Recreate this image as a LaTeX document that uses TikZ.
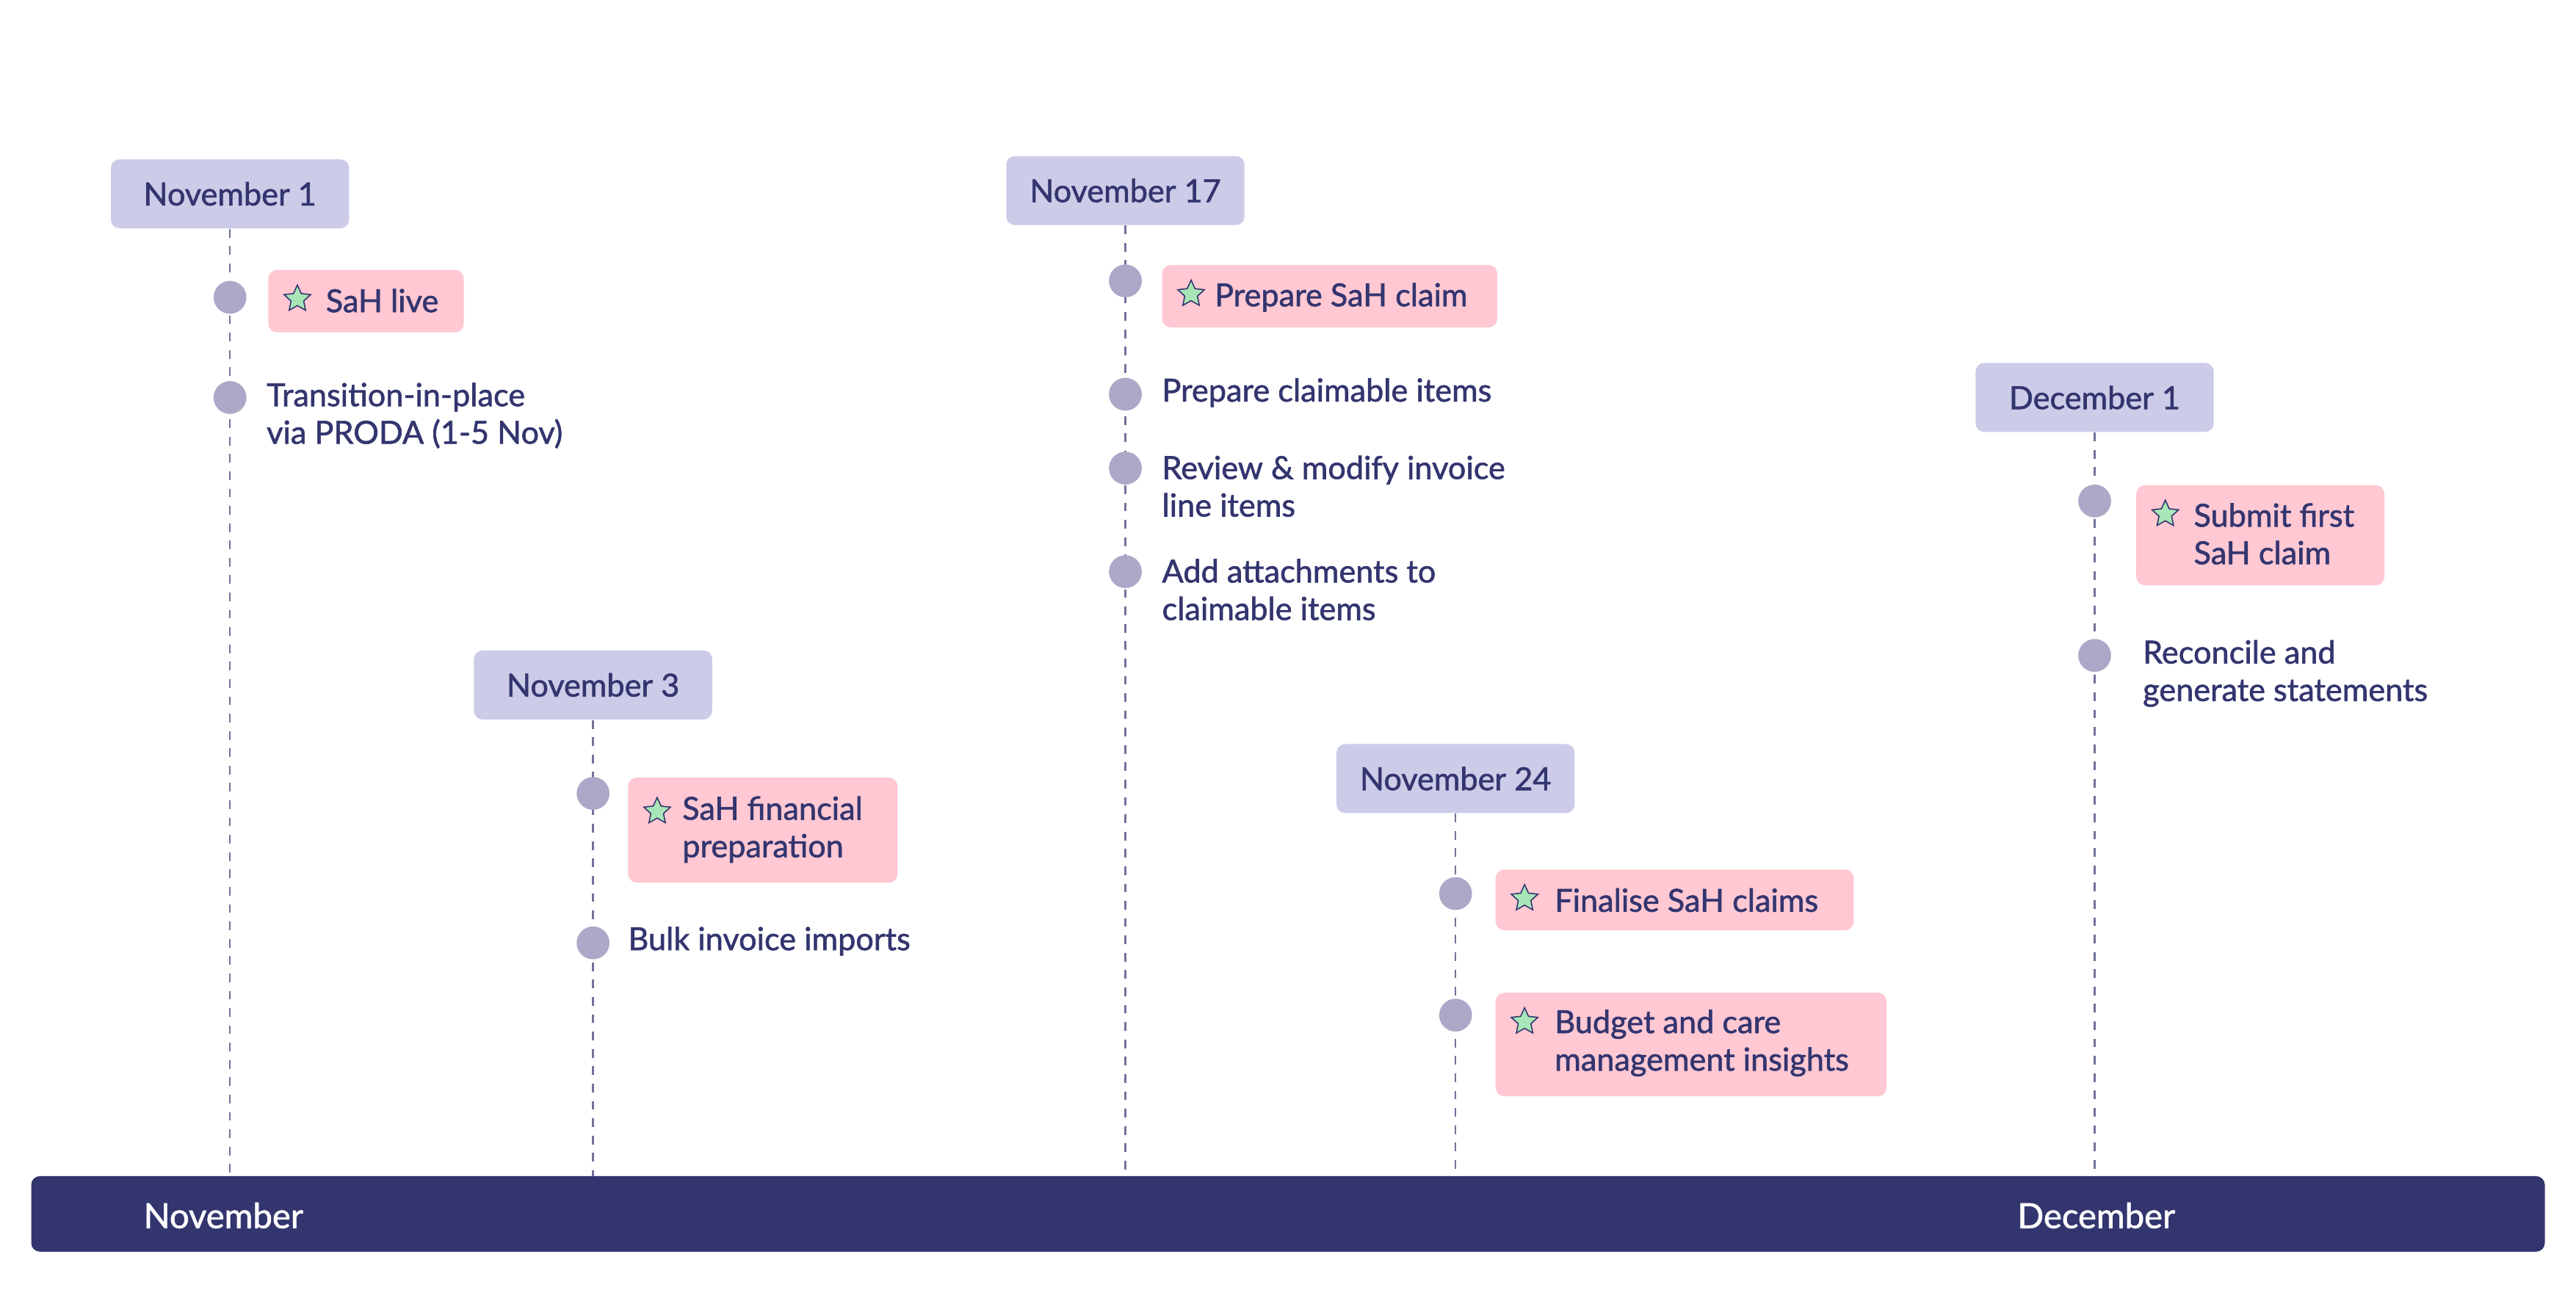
\documentclass[tikz,border=0pt]{standalone}
\usepackage{fontspec}
\setmainfont{Lato}[UprightFeatures={FakeBold=1.4}]
\definecolor{navy}{HTML}{33356F}
\definecolor{lilac}{HTML}{CCCBE8}
\definecolor{dotgray}{HTML}{ABA8C8}
\definecolor{rosepink}{HTML}{FFC8D3}
\definecolor{mint}{HTML}{A8E6B8}
\usetikzlibrary{positioning, shapes.geometric}

\begin{document}
\begin{tikzpicture}[
      x=0.02cm, y=-0.02cm,
      txt/.style={font=\fontsize{11}{13}\selectfont, text=navy, align=left, anchor=west, inner sep=0pt},
      date/.style={fill=lilac, rounded corners=3pt, minimum width=145*0.02cm, minimum height=42*0.02cm,
        font=\fontsize{11}{13}\selectfont, text=navy},
      dot/.style={circle, fill=dotgray, minimum size=20*0.02cm, inner sep=0pt},
      pinkbox/.style={fill=rosepink, rounded corners=3pt, anchor=north west, inner sep=0pt},
      starmark/.style={star, star points=5, star point ratio=2.1, draw=navy, fill=mint, line width=0.4pt,
        minimum size=0.34cm, inner sep=0pt},
      stem/.style={navy!70, dash pattern=on 3pt off 3pt, line width=0.6pt}
    ]
      \useasboundingbox (0,0) rectangle (1568,792);

      % timeline bar
      \fill[navy, rounded corners=3pt] (19,716) rectangle (1549,762);
      \node[font=\fontsize{12}{13}\selectfont, text=white] (mnov) at (136,740) {November};
      \node[font=\fontsize{12}{13}\selectfont, text=white] (mdec) at (1276,740) {December};

      % dates
      \node[date] (d1) at (140,118) {November 1};
      \node[date] (d3) at (361,417) {November 3};
      \node[date] (d17) at (685,116) {November 17};
      \node[date] (d24) at (886,474) {November 24};
      \node[date] (dd1) at (1275,242) {December 1};

      \coordinate (b1) at (140,716);
      \coordinate (b3) at (361,716);
      \coordinate (b17) at (685,716);
      \coordinate (b24) at (886,716);
      \coordinate (bd1) at (1275,716);
      \draw[stem] (d1) -- (b1);
      \draw[stem] (d3) -- (b3);
      \draw[stem] (d17) -- (b17);
      \draw[stem] (d24) -- (b24);
      \draw[stem] (dd1) -- (bd1);

      % dots
      \node[dot] (p1) at (140,181) {};
      \node[dot] (p2) at (140,242) {};
      \node[dot] (p3) at (361,483) {};
      \node[dot] (p4) at (361,574) {};
      \node[dot] (p5) at (685,171) {};
      \node[dot] (p6) at (685,240) {};
      \node[dot] (p7) at (685,285) {};
      \node[dot] (p8) at (685,348) {};
      \node[dot] (p9) at (886,544) {};
      \node[dot] (p10) at (886,618) {};
      \node[dot] (p11) at (1275,305) {};
      \node[dot] (p12) at (1275,399) {};

      % highlighted items
      \node[pinkbox, minimum width=119*0.02cm, minimum height=38*0.02cm] (h1) at (163,164) {};
      \node[starmark] (s1) at (181,182) {};
      \node[txt] (t1) at (198,183) {SaH live};

      \node[pinkbox, minimum width=164*0.02cm, minimum height=64*0.02cm] (h2) at (382,473) {};
      \node[starmark] (s2) at (400,494) {};
      \node[txt] (t2) at (415,505) {SaH financial\\preparation};

      \node[pinkbox, minimum width=204*0.02cm, minimum height=38*0.02cm] (h3) at (707,161) {};
      \node[starmark] (s3) at (725,179) {};
      \node[txt] (t3) at (739,181) {Prepare SaH claim};

      \node[pinkbox, minimum width=218*0.02cm, minimum height=37*0.02cm] (h4) at (910,529) {};
      \node[starmark] (s4) at (928,547) {};
      \node[txt] (t4) at (946,548) {Finalise SaH claims};

      \node[pinkbox, minimum width=238*0.02cm, minimum height=63*0.02cm] (h5) at (910,604) {};
      \node[starmark] (s5) at (928,622) {};
      \node[txt] (t5) at (946,635) {Budget and care\\management insights};

      \node[pinkbox, minimum width=151*0.02cm, minimum height=61*0.02cm] (h6) at (1300,295) {};
      \node[starmark] (s6) at (1318,313) {};
      \node[txt] (t6) at (1335,325) {Submit first\\SaH claim};

      % plain items
      \node[txt] (t7) at (162,253) {Transition-in-place\\via PRODA (1-5 Nov)};
      \node[txt] (t8) at (382,573) {Bulk invoice imports};
      \node[txt] (t9) at (707,239) {Prepare claimable items};
      \node[txt] (t10) at (707,296) {Review \& modify invoice\\line items};
      \node[txt] (t11) at (707,359) {Add attachments to\\claimable items};
      \node[txt] (t12) at (1304,410) {Reconcile and\\generate statements};
    \end{tikzpicture}
\end{document}
